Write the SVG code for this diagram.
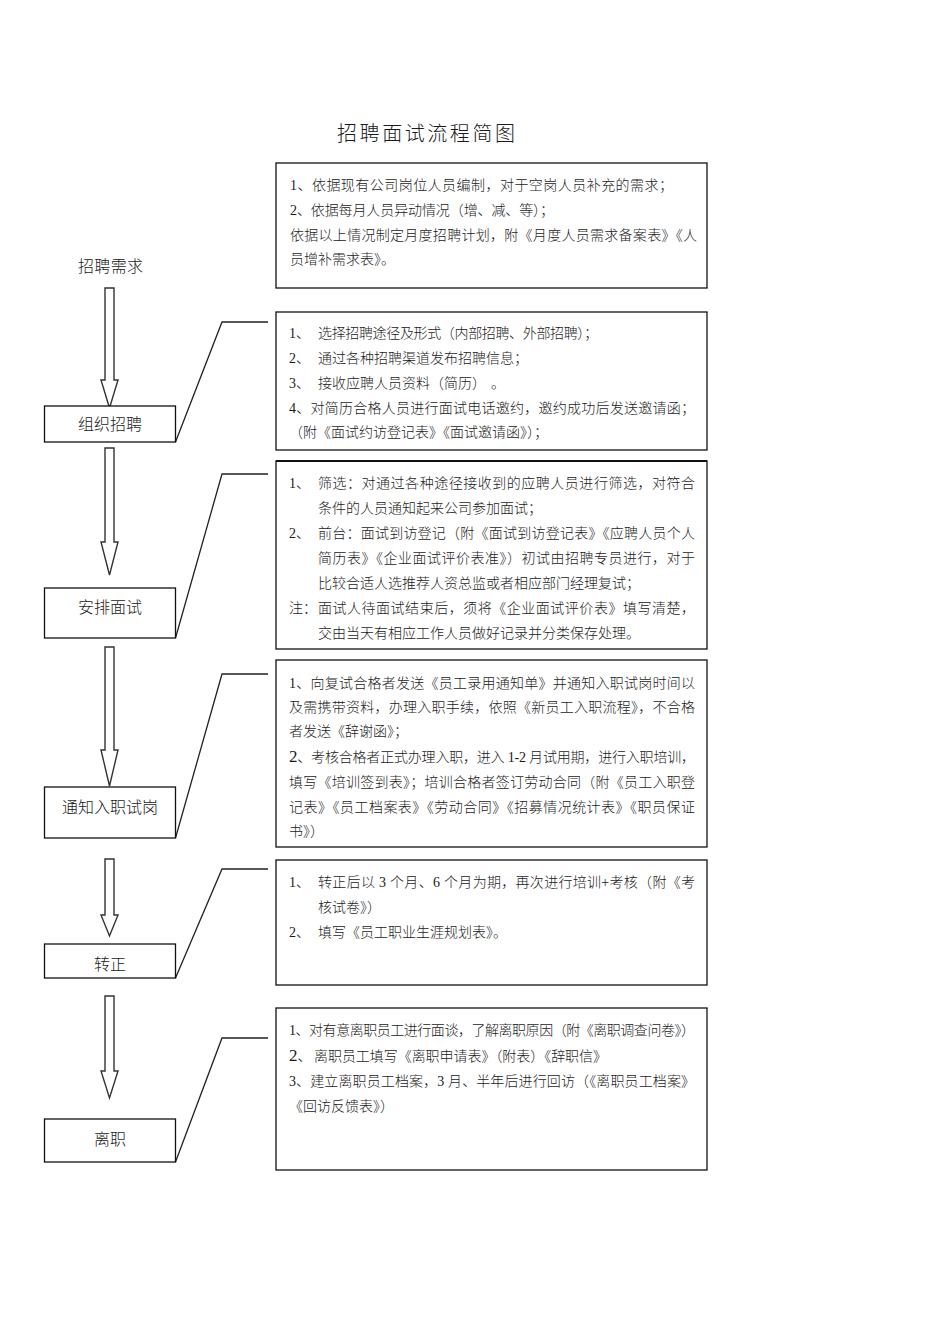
<svg xmlns="http://www.w3.org/2000/svg" width="950" height="1344" viewBox="0 0 950 1344">
<style>
text{font-family:"Liberation Serif","Noto Sans CJK SC",serif;fill:#1a1a1a;font-weight:300}
.t{font-size:14px}
.n{font-size:16px;text-anchor:middle}
.big{font-size:17px}
.box{fill:#fff;stroke:#111;stroke-width:1.3}
.node{fill:#fff;stroke:#111;stroke-width:1.3}
.arrow{fill:#fff;stroke:#333;stroke-width:1.4;stroke-linejoin:miter}
.conn{fill:none;stroke:#222;stroke-width:1.3}
</style>
<rect width="950" height="1344" fill="#fff"/>
<text x="337" y="141" font-size="20" textLength="178" lengthAdjust="spacing">招聘面试流程简图</text>

<g id="connectors">
<polygon class="arrow" points="105,288 114,288 114,380 118,380 109.5,408 101,380 105,380"/>
<polygon class="arrow" points="105,448 114,448 114,542 118,542 109.5,575 101,542 105,542"/>
<polygon class="arrow" points="105,647 114,647 114,750 118,750 109.5,786 101,750 105,750"/>
<polygon class="arrow" points="105,859 114,859 114,915 118,915 109.5,936 101,915 105,915"/>
<polygon class="arrow" points="105,996 114,996 114,1071 118,1071 109.5,1098 101,1071 105,1071"/>
<polyline class="conn" points="175.5,442 222,322 268,322"/>
<polyline class="conn" points="175.5,638 222,474 268,474"/>
<polyline class="conn" points="175.5,838 222,674 268,674"/>
<polyline class="conn" points="175.5,978 222,869 268,869"/>
<polyline class="conn" points="175.5,1162 222,1038 268,1038"/>
</g>

<g id="start">
<text x="78" y="272" font-size="16" textLength="65" lengthAdjust="spacing">招聘需求</text>
</g>

<g id="n1">
<rect class="node" x="44.5" y="406" width="131" height="36"/>
<text class="n" x="110" y="430">组织招聘</text>
</g>
<g id="n2">
<rect class="node" x="44.5" y="588" width="131" height="50"/>
<text class="n" x="110" y="613">安排面试</text>
</g>
<g id="n3">
<rect class="node" x="44.5" y="787" width="131" height="51"/>
<text class="n" x="110" y="813">通知入职试岗</text>
</g>
<g id="n4">
<rect class="node" x="44.5" y="944" width="131" height="34"/>
<text class="n" x="110" y="970">转正</text>
</g>
<g id="n5">
<rect class="node" x="44.5" y="1119" width="131" height="43"/>
<text class="n" x="110" y="1145">离职</text>
</g>

<g id="d0">
<rect class="box" x="276" y="163" width="431" height="125"/>
<text class="t" x="290" y="190" textLength="383" lengthAdjust="spacing">1、依据现有公司岗位人员编制，对于空岗人员补充的需求；</text>
<text class="t" x="290" y="215" textLength="264" lengthAdjust="spacing">2、依据每月人员异动情况（增、减、等）；</text>
<text class="t" x="290" y="240" textLength="407" lengthAdjust="spacing">依据以上情况制定月度招聘计划，附《月度人员需求备案表》《人</text>
<text class="t" x="290" y="264">员增补需求表》。</text>
</g>

<g id="d1">
<rect class="box" x="276" y="312" width="431" height="138"/>
<text class="t" x="289" y="338">1、</text>
<text class="t" x="318" y="338" textLength="280" lengthAdjust="spacing">选择招聘途径及形式（内部招聘、外部招聘）；</text>
<text class="t" x="289" y="363">2、</text>
<text class="t" x="318" y="363">通过各种招聘渠道发布招聘信息；</text>
<text class="t" x="289" y="388">3、</text>
<text class="t" x="318" y="388">接收应聘人员资料（简历）<tspan x="491">。</tspan></text>
<text class="t" x="289" y="413" textLength="406" lengthAdjust="spacing">4、对简历合格人员进行面试电话邀约，邀约成功后发送邀请函；</text>
<text class="t" x="289" y="437">（附《面试约访登记表》《面试邀请函》）；</text>
</g>

<g id="d2">
<rect class="box" x="276" y="461" width="431" height="188"/>
<line x1="276" y1="461" x2="707" y2="461" stroke="#111" stroke-width="2.2"/>
<text class="t" x="289" y="488">1、</text>
<text class="t" x="318" y="488" textLength="377" lengthAdjust="spacing">筛选：对通过各种途径接收到的应聘人员进行筛选，对符合</text>
<text class="t" x="318" y="513">条件的人员通知起来公司参加面试；</text>
<text class="t" x="289" y="538">2、</text>
<text class="t" x="318" y="538" textLength="377" lengthAdjust="spacing">前台：面试到访登记（附《面试到访登记表》《应聘人员个人</text>
<text class="t" x="318" y="563" textLength="377" lengthAdjust="spacing">简历表》《企业面试评价表准》）初试由招聘专员进行，对于</text>
<text class="t" x="318" y="588">比较合适人选推荐人资总监或者相应部门经理复试；</text>
<text class="t" x="289" y="613">注：</text>
<text class="t" x="318" y="613" textLength="377" lengthAdjust="spacing">面试人待面试结束后，须将《企业面试评价表》填写清楚，</text>
<text class="t" x="318" y="638">交由当天有相应工作人员做好记录并分类保存处理。</text>
</g>

<g id="d3">
<rect class="box" x="276" y="660" width="431" height="187"/>
<text class="t" x="289" y="688" textLength="406" lengthAdjust="spacing">1、向复试合格者发送《员工录用通知单》并通知入职试岗时间以</text>
<text class="t" x="289" y="712" textLength="406" lengthAdjust="spacing">及需携带资料，办理入职手续，依照《新员工入职流程》，不合格</text>
<text class="t" x="289" y="736">者发送《辞谢函》；</text>
<text class="t" x="289" y="762" textLength="406" lengthAdjust="spacing"><tspan class="big">2</tspan>、考核合格者正式办理入职，进入 1-2 月试用期，进行入职培训，</text>
<text class="t" x="289" y="787" textLength="406" lengthAdjust="spacing">填写《培训签到表》；培训合格者签订劳动合同（附《员工入职登</text>
<text class="t" x="289" y="812" textLength="406" lengthAdjust="spacing">记表》《员工档案表》《劳动合同》《招募情况统计表》《职员保证</text>
<text class="t" x="289" y="836">书》）</text>
</g>

<g id="d4">
<rect class="box" x="276" y="860" width="431" height="125"/>
<text class="t" x="289" y="887">1、</text>
<text class="t" x="318" y="887" textLength="377" lengthAdjust="spacing">转正后以 3 个月、6 个月为期，再次进行培训+考核（附《考</text>
<text class="t" x="318" y="912">核试卷》）</text>
<text class="t" x="289" y="937">2、</text>
<text class="t" x="318" y="937">填写《员工职业生涯规划表》。</text>
</g>

<g id="d5">
<rect class="box" x="276" y="1008" width="431" height="162"/>
<text class="t" x="289" y="1035" textLength="406" lengthAdjust="spacing">1、对有意离职员工进行面谈，了解离职原因（附《离职调查问卷》）</text>
<text class="t" x="289" y="1061"><tspan class="big">2</tspan>、</text>
<text class="t" x="314" y="1061" textLength="293" lengthAdjust="spacing">离职员工填写《离职申请表》（附表）《辞职信》</text>
<text class="t" x="289" y="1086" textLength="406" lengthAdjust="spacing">3、建立离职员工档案，3 月、半年后进行回访（《离职员工档案》</text>
<text class="t" x="289" y="1111">《回访反馈表》）</text>
</g>
</svg>
